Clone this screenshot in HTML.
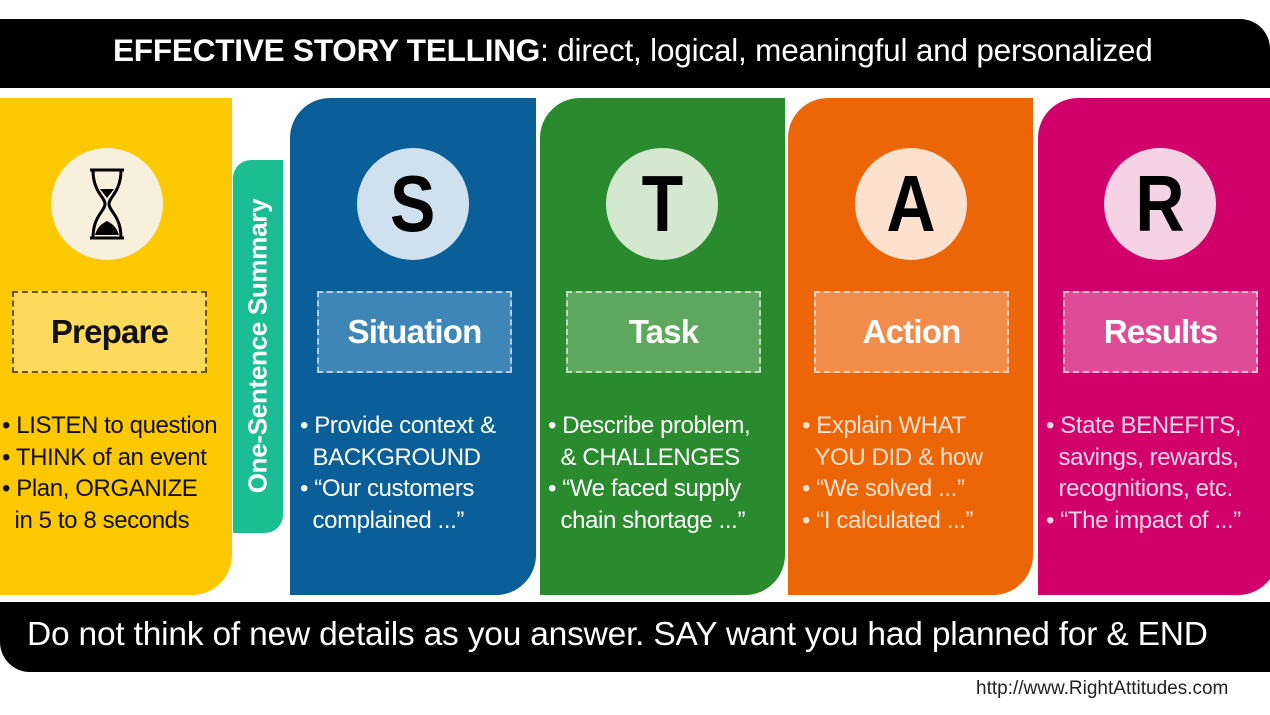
<!DOCTYPE html>
<html><head><meta charset="utf-8"><style>
*{margin:0;padding:0;box-sizing:border-box}
body{width:1270px;height:715px;background:#fff;position:relative;overflow:hidden;font-family:"Liberation Sans",sans-serif}
.a{position:absolute}
.card{position:absolute;top:98px;height:497px;border-radius:40px 0 40px 0}
.circ{position:absolute;width:112px;height:112px;border-radius:50%;top:148px;font-weight:bold;font-size:80px;text-align:center;line-height:112px;color:#000}
.circ span{display:inline-block;transform:scaleX(.85)}
.box{position:absolute;top:291px;width:195px;height:82px;border:2px dashed rgba(255,255,255,.6);font-weight:bold;font-size:33px;text-align:center;line-height:78px;color:#fff;letter-spacing:-0.8px}
.txt{position:absolute;top:410px;font-size:24px;line-height:31.5px;color:#fff;white-space:nowrap;letter-spacing:-0.4px}
</style></head><body>
<div class="a" style="left:0;top:19px;width:1270px;height:69px;background:#000;border-radius:0 30px 0 0"></div>
<div class="a" style="left:113px;top:32px;color:#fff;font-size:31.5px;white-space:nowrap;letter-spacing:-0.2px"><b>EFFECTIVE STORY TELLING</b>: direct, logical, meaningful and personalized</div>

<div class="card" style="left:0;width:232px;background:#FCC800;border-radius:0 0 40px 0"></div>
<div class="a" style="left:233px;top:160px;width:50px;height:373px;background:#1BBE93;border-radius:18px 0 18px 0"></div>
<div class="a" style="left:258px;top:346px;transform:translate(-50%,-50%) rotate(-90deg);color:#fff;font-weight:bold;font-size:26px;white-space:nowrap;letter-spacing:-0.3px">One-Sentence Summary</div>
<div class="card" style="left:290px;width:246px;background:#0A5F98"></div>
<div class="card" style="left:540px;width:245px;background:#2A8A2E"></div>
<div class="card" style="left:788px;width:245px;background:#EC6608"></div>
<div class="card" style="left:1038px;width:240px;background:#D2006B"></div>

<div class="circ" style="left:51px;background:#F8F0DC"></div>
<svg class="a" style="left:86px;top:167px" width="42" height="74" viewBox="0 0 42 74"><path d="M4 3 H38 M4 71 H38 M7 3 C7 25 19 30 19 37 C19 44 7 49 7 71 M35 3 C35 25 23 30 23 37 C23 44 35 49 35 71" stroke="#000" stroke-width="3" fill="none"/><path d="M9 68 C12 58 18 56 21 54 C24 56 30 58 33 68 Z" fill="#000"/><path d="M14 22 H28 L21 31Z" fill="#000"/></svg>
<div class="circ" style="left:357px;background:#CFE0EE"><span>S</span></div>
<div class="circ" style="left:606px;background:#D4E8CF"><span>T</span></div>
<div class="circ" style="left:855px;background:#FCE1CE"><span>A</span></div>
<div class="circ" style="left:1104px;background:#F5D2E4"><span>R</span></div>

<div class="box" style="left:12px;background:#FDDA5C;border-color:#6b5500;color:#111">Prepare</div>
<div class="box" style="left:317px;background:#3F86B8">Situation</div>
<div class="box" style="left:566px;background:#5DA85C">Task</div>
<div class="box" style="left:814px;background:#F18C4A">Action</div>
<div class="box" style="left:1063px;background:#DE4C97">Results</div>

<div class="txt" style="left:2px;color:#111">• LISTEN to question<br>• THINK of an event<br>• Plan, ORGANIZE<br>&nbsp;&nbsp;in 5 to 8 seconds</div>
<div class="txt" style="left:300px">• Provide context &amp;<br>&nbsp;&nbsp;BACKGROUND<br>• “Our customers<br>&nbsp;&nbsp;complained ...”</div>
<div class="txt" style="left:548px">• Describe problem,<br>&nbsp;&nbsp;&amp; CHALLENGES<br>• “We faced supply<br>&nbsp;&nbsp;chain shortage ...”</div>
<div class="txt" style="left:802px;color:#FCE1CE">• Explain WHAT<br>&nbsp;&nbsp;YOU DID &amp; how<br>• “We solved ...”<br>• “I calculated ...”</div>
<div class="txt" style="left:1046px;color:#F9D5E8">• State BENEFITS,<br>&nbsp;&nbsp;savings, rewards,<br>&nbsp;&nbsp;recognitions, etc.<br>• “The impact of ...”</div>

<div class="a" style="left:0;top:602px;width:1270px;height:70px;background:#000;border-radius:0 0 0 30px"></div>
<div class="a" style="left:27px;top:616px;color:#fff;font-size:33.5px;white-space:nowrap;letter-spacing:-0.2px">Do not think of new details as you answer. SAY want you had planned for &amp; END</div>
<div class="a" style="left:976px;top:678px;color:#222;font-size:19px;white-space:nowrap">http://www.RightAttitudes.com</div>
</body></html>
